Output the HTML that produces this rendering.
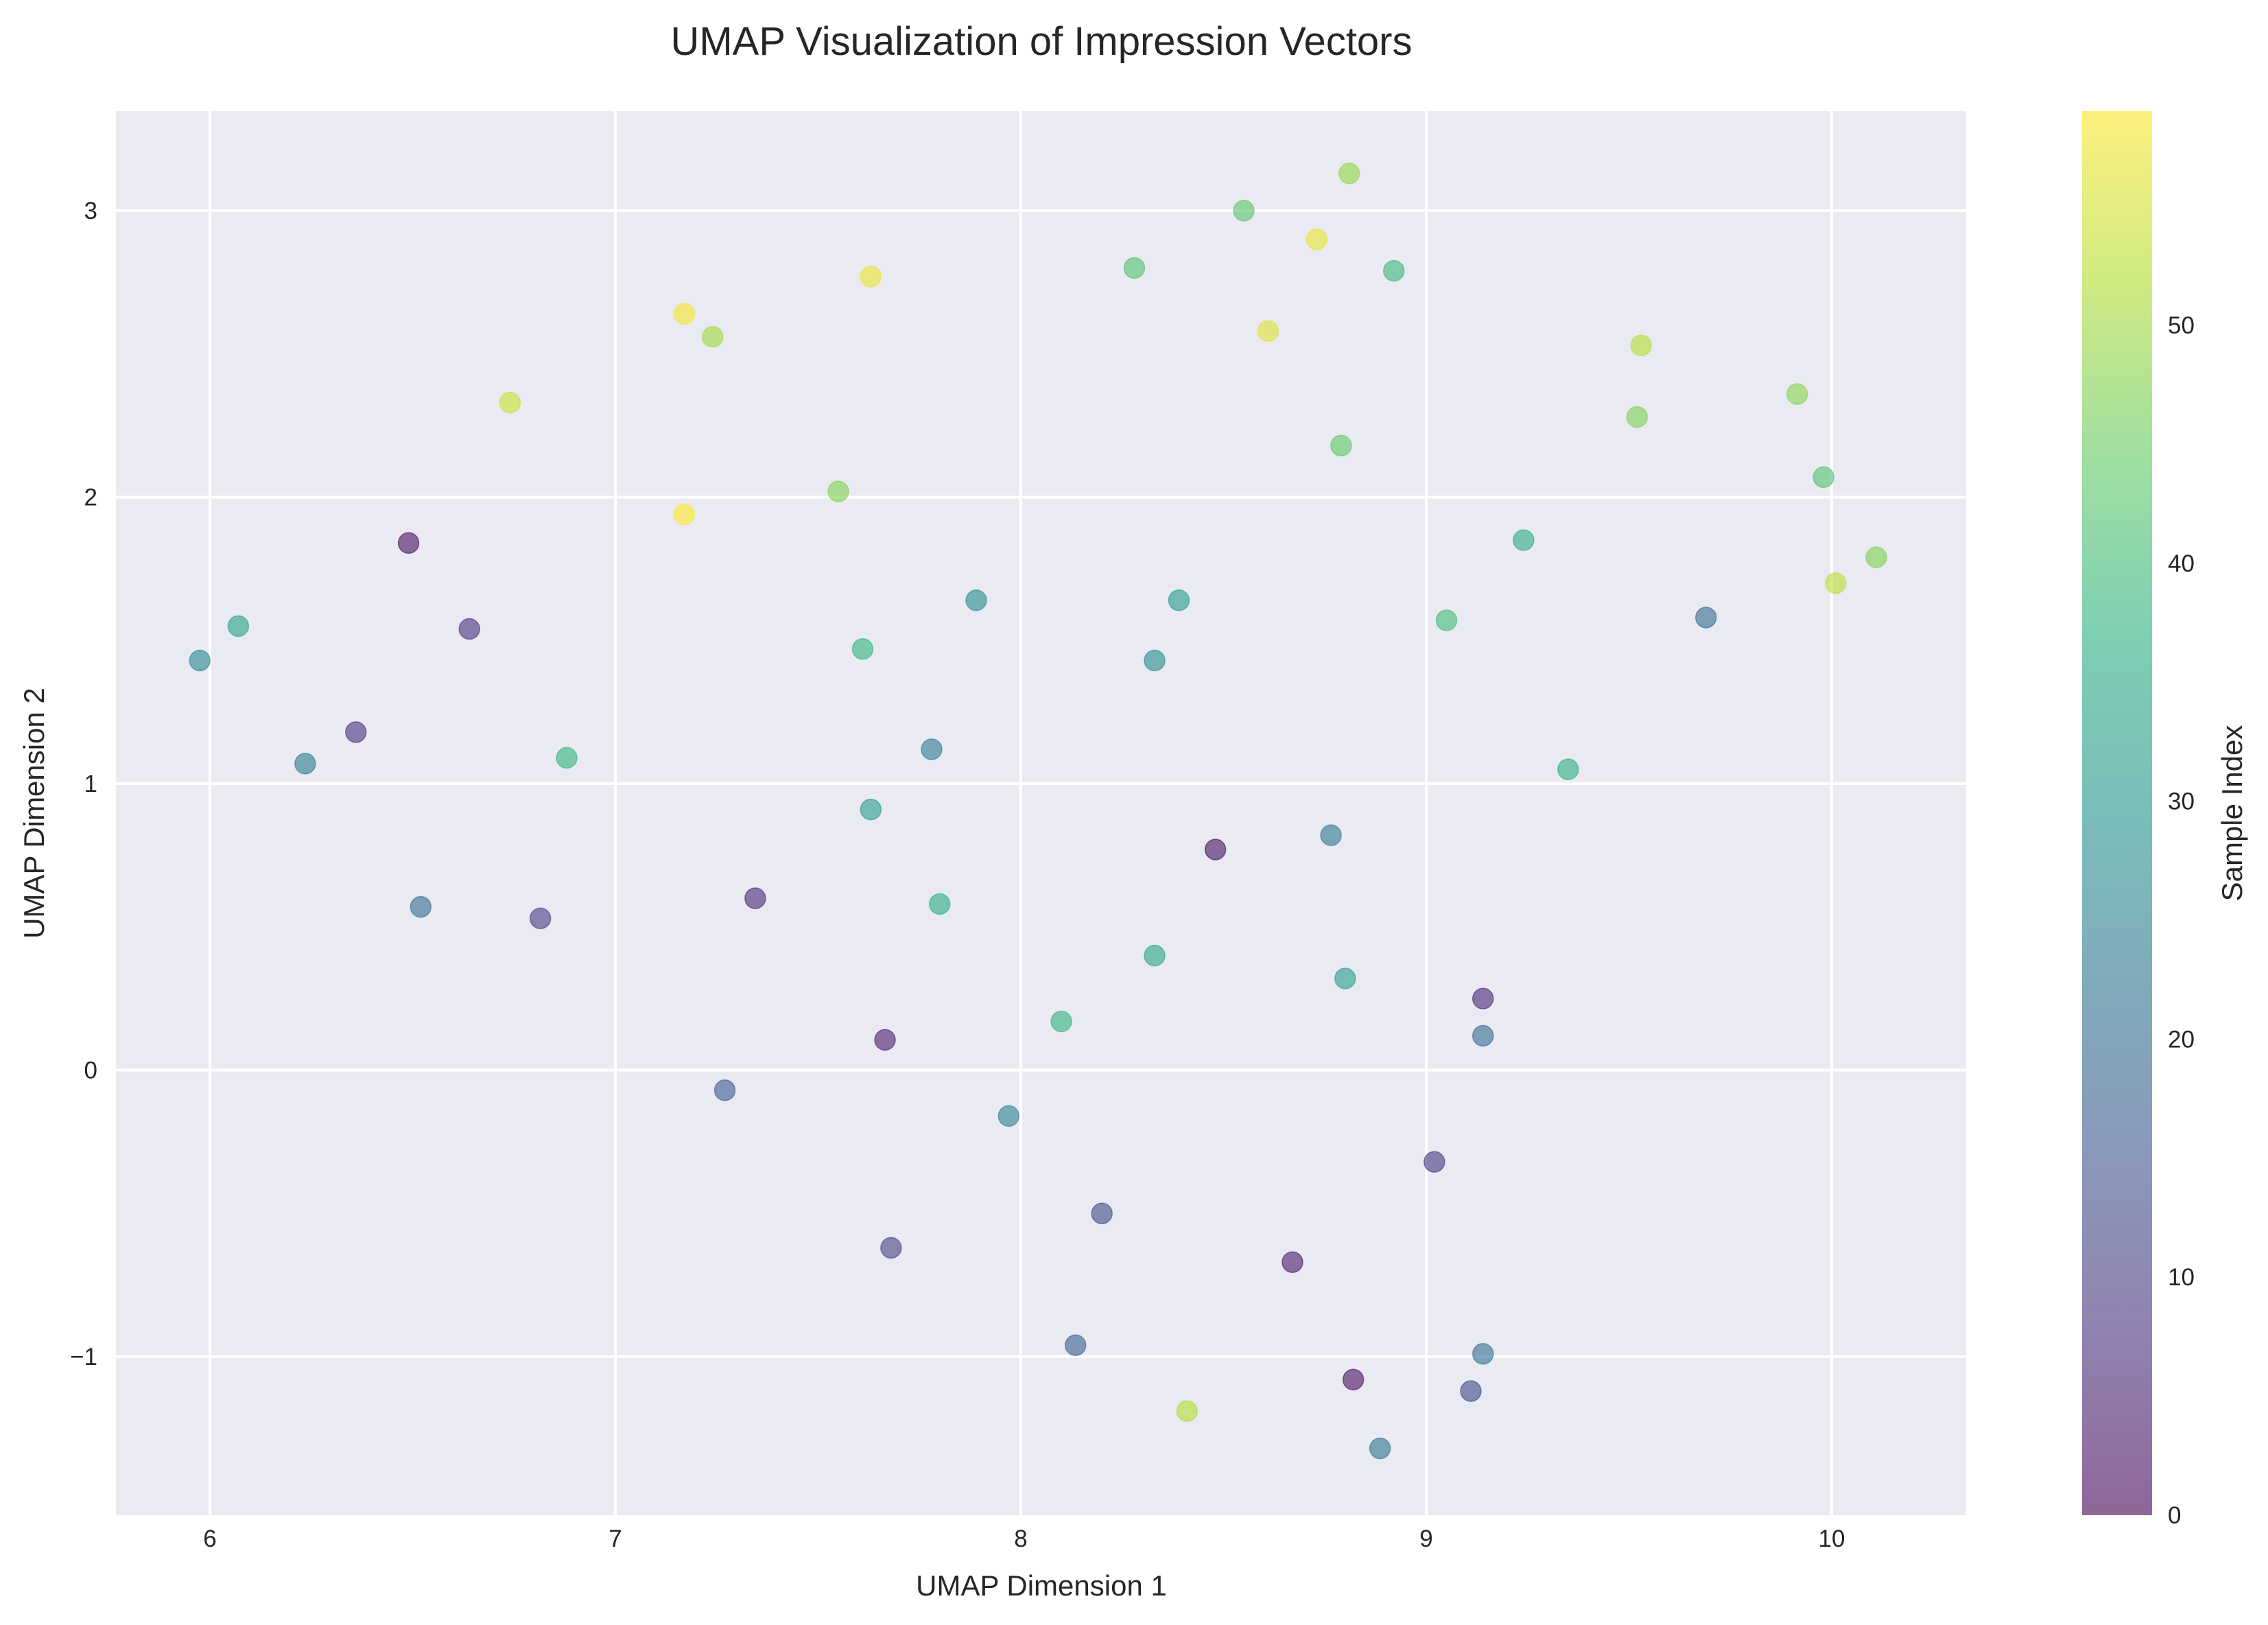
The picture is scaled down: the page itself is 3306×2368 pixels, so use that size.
<!DOCTYPE html>
<html><head><meta charset="utf-8"><style>
body{margin:0;background:#fff;}
svg{display:block;font-family:"Liberation Sans",Arial,sans-serif;}
</style></head><body>
<svg id="chart" width="3306" height="2368" viewBox="0 0 3306 2368" xmlns="http://www.w3.org/2000/svg">
<defs>
<linearGradient id="viridis" x1="0" y1="1" x2="0" y2="0">
<stop offset="0" stop-color="#440154"/><stop offset="0.125" stop-color="#472d7b"/><stop offset="0.25" stop-color="#3b528b"/><stop offset="0.375" stop-color="#2c728e"/><stop offset="0.5" stop-color="#21918c"/><stop offset="0.625" stop-color="#28ae80"/><stop offset="0.75" stop-color="#5ec962"/><stop offset="0.875" stop-color="#addc30"/><stop offset="1" stop-color="#fde725"/>
</linearGradient>
</defs>
<rect x="169" y="162" width="2697" height="2046" fill="#eaeaf2"/>
<g id="grid"></g>
<g id="points"></g>
<g id="xticks"></g>
<g id="yticks"></g>
<text x="1518" y="80" font-size="58" text-anchor="middle" fill="#262626">UMAP Visualization of Impression Vectors</text>
<text x="1518" y="2325" font-size="42" text-anchor="middle" fill="#262626">UMAP Dimension 1</text>
<text x="0" y="0" font-size="42" text-anchor="middle" fill="#262626" transform="translate(64,1185) rotate(-90)">UMAP Dimension 2</text>
<rect x="3035" y="162" width="102" height="2046" fill="url(#viridis)" opacity="0.6"/>
<g id="cticks"></g>
<text x="0" y="0" font-size="42" text-anchor="middle" fill="#262626" transform="translate(3268,1185) rotate(-90)">Sample Index</text>
</svg>
<script>
const xs=[5.975,6.07,6.235,6.36,6.49,6.52,6.64,6.74,6.815,6.88,7.17,7.17,7.24,7.27,7.345,7.55,7.61,7.63,7.63,7.665,7.68,7.78,7.80,7.89,7.97,8.10,8.135,8.20,8.28,8.33,8.33,8.39,8.41,8.48,8.55,8.61,8.67,8.73,8.765,8.79,8.81,8.80,8.82,8.886,8.92,9.02,9.05,9.11,9.14,9.14,9.14,9.24,9.35,9.52,9.53,9.69,9.915,9.98,10.01,10.11];
const ys=[1.43,1.55,1.07,1.18,1.84,0.57,1.54,2.33,0.53,1.09,2.64,1.94,2.56,-0.07,0.60,2.02,1.47,2.77,0.91,0.106,-0.62,1.12,0.58,1.64,-0.16,0.17,-0.96,-0.50,2.80,1.43,0.40,1.64,-1.19,0.77,3.00,2.58,-0.67,2.90,0.82,2.18,3.13,0.32,-1.08,-1.32,2.79,-0.32,1.57,-1.12,0.25,0.12,-0.99,1.85,1.05,2.28,2.53,1.58,2.36,2.07,1.70,1.79];
const cs=[27,33,24,8,2,20,8,54,10,38,58,59,50,16,6,47,38,57,32,4,11,24,36,28,25,38,17,13,42,28,34,31,52,2,43,56,4,57,23,44,49,32,2,22,39,9,40,12,6,20,21,36,37,47,52,20,48,42,53,47];
const xTicks=[6,7,8,9,10];
const yTicks=[-1,0,1,2,3];
const cTicks=[0,10,20,30,40,50];
const NS='http://www.w3.org/2000/svg';
const X=v=>306+(v-6)*591;
const Y=v=>1559.5-v*417.5;
const C=v=>2208-(v/59)*2046;
const vir=[[68,1,84],[71,45,123],[59,82,139],[44,114,142],[33,145,140],[40,174,128],[94,201,98],[173,220,48],[253,231,37]];
function viridis(t){t=Math.max(0,Math.min(1,t))*8;const i=Math.min(7,Math.floor(t)),f=t-i;const a=vir[i],b=vir[i+1];return 'rgb('+a.map((v,k)=>Math.round(v+(b[k]-v)*f)).join(',')+')';}
function mk(tag,attrs,parent,txt){const e=document.createElementNS(NS,tag);for(const k in attrs)e.setAttribute(k,attrs[k]);if(txt!==undefined)e.textContent=txt;document.getElementById(parent).appendChild(e);return e;}
xTicks.forEach(t=>{
 const l=mk('line',{x1:X(t),x2:X(t),y1:162,y2:2208,stroke:'#fff','stroke-width':4},'grid');
 
 
 const s=mk('text',{x:X(t),y:2254,'font-size':35,'text-anchor':'middle',fill:'#262626'},'xticks',String(t));
 
 
});
yTicks.forEach(t=>{
 const l=mk('line',{x1:169,x2:2866,y1:Y(t),y2:Y(t),stroke:'#fff','stroke-width':4},'grid');
 
 
 const s=mk('text',{x:142,y:Y(t)+12,'font-size':35,'text-anchor':'end',fill:'#262626'},'yticks',t<0?'\u2212'+Math.abs(t):String(t));
 
 
});
cTicks.forEach(t=>{
 const s=mk('text',{x:3160,y:C(t)+12,'font-size':35,fill:'#262626'},'cticks',String(t));
 
 
});
xs.forEach((x,i)=>{
 const c=mk('circle',{cx:X(x),cy:Y(ys[i]),r:15,fill:viridis(cs[i]/59),'fill-opacity':0.6,stroke:viridis(cs[i]/59),'stroke-opacity':0.6,'stroke-width':1.5},'points');
 
 
});
</script>
</body></html>
